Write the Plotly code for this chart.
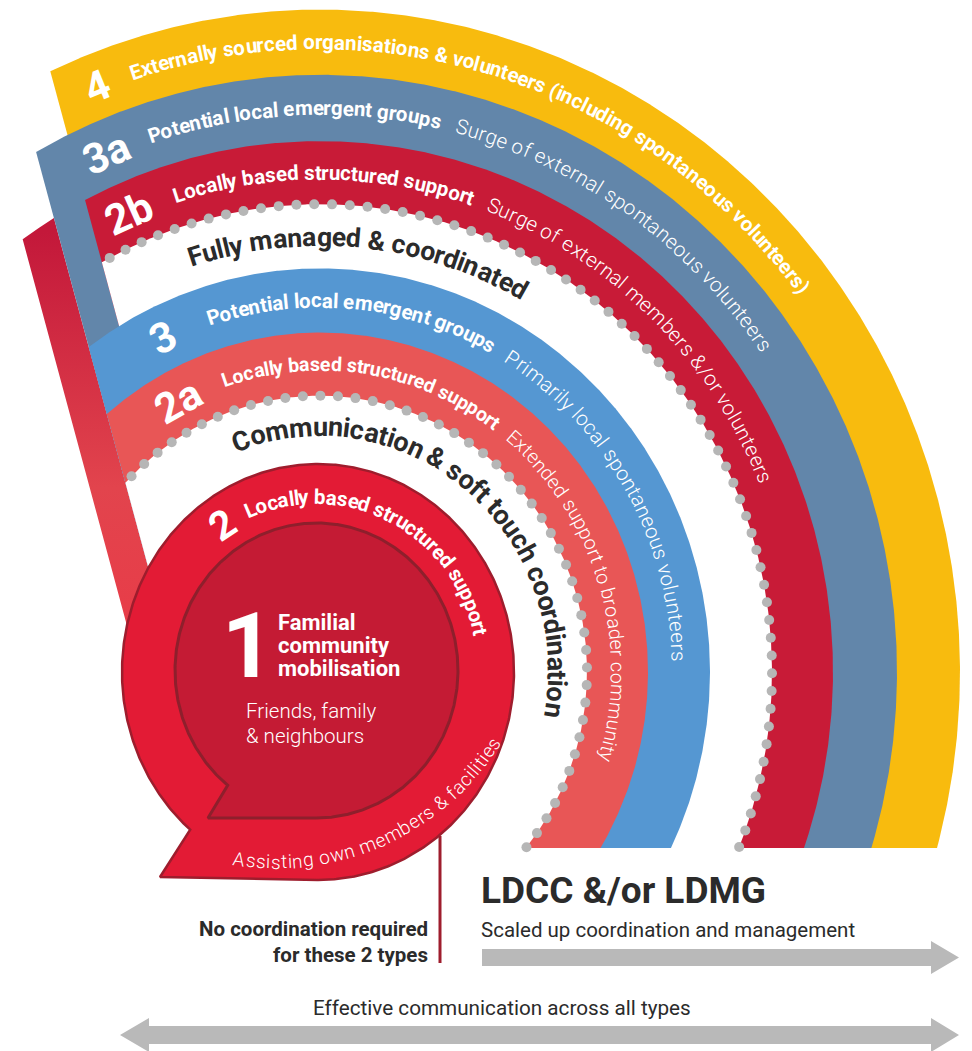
import numpy as np
import plotly.graph_objects as go

# ---------------- data (labels of the infographic) ----------------
band_ids = ["4", "3a", "2b", "3", "2a"]
band_titles = ["Externally sourced organisations & volunteers (including spontaneous volunteers)",
               "Potential local emergent groups",
               "Locally based structured support",
               "Potential local emergent groups",
               "Locally based structured support"]
band_notes = ["",
              "Surge of external spontaneous volunteers",
              "Surge of external members &/or volunteers",
              "Primarily local spontaneous volunteers",
              "Extended support to broader community"]
zone_labels = ["Fully managed & coordinated", "Communication & soft touch coordination"]
type2_id = "2"
type2_title = "Locally based structured support"
type2_note = "Assisting own members & facilities"
type1_id = "1"
type1_title = ["Familial", "community", "mobilisation"]
type1_note = ["Friends, family", "& neighbours"]
no_coord_lines = ["No coordination required", "for these 2 types"]
ldcc_title = "LDCC &/or LDMG"
ldcc_note = "Scaled up coordination and management"
comm_note = "Effective communication across all types"

# ---------------- styles / geometry ----------------
FONT = "Roboto"
DARK = "#2b2b2b"
BAND_COLORS = ["#f8bb0e", "#6286aa", "#c81b37", "#5597d2", "#e85656"]
DOT = "#b6b6b6"
ARROW = "#b9b9b9"
CX, CY, K = 320.0, 672.0, 1.035
EDGES = [640, 577, 513, 452, 390, 328, 267]
Y_CUT = 848.0
SLOPE = 0.27


def L1(y):
    return 35 + SLOPE * (y - 148)


def L2(y):
    return L1(y) + 36


def L0(y):
    return L1(y) - 37


W = {' ': .248, '!': .258, '&': .621, '(': .341, ')': .348, ',': .196, '-': .270, '.': .263, '/': .411,
     'A': .652, 'B': .623, 'C': .652, 'D': .656, 'E': .568, 'F': .553, 'G': .681, 'H': .713, 'I': .272,
     'J': .552, 'K': .626, 'L': .538, 'M': .873, 'N': .713, 'O': .688, 'P': .631, 'Q': .688, 'R': .616,
     'S': .593, 'T': .597, 'U': .648, 'V': .636, 'W': .887, 'X': .627, 'Y': .601, 'Z': .599,
     'a': .544, 'b': .561, 'c': .523, 'd': .563, 'e': .530, 'f': .347, 'g': .561, 'h': .551, 'i': .243,
     'j': .239, 'k': .507, 'l': .243, 'm': .876, 'n': .552, 'o': .570, 'p': .561, 'q': .568, 'r': .338,
     's': .516, 't': .327, 'u': .551, 'v': .484, 'w': .751, 'x': .496, 'y': .473, 'z': .496}


def adv(ch, bold):
    return W.get(ch, 0.562) * (1.025 if bold else 1.035)


def esc(ch):
    return {'&': '&amp;', '<': '&lt;', '>': '&gt;'}.get(ch, ch)


def esc_text(t):
    return ''.join(esc(c) for c in t)


def left_theta(a, b, line):
    lo, hi = np.pi / 2, np.pi
    for _ in range(60):
        mid = (lo + hi) / 2
        x = CX + a * np.cos(mid)
        y = CY - b * np.sin(mid)
        if x - line(y) > 0:
            lo = mid
        else:
            hi = mid
    return (lo + hi) / 2


def arc_xy(a, line, n=700):
    b = a * K
    t0 = left_theta(a, b, line)
    t1 = -np.arcsin((Y_CUT - CY) / b)
    th = np.linspace(t0, t1, n)
    return CX + a * np.cos(th), CY - b * np.sin(th)


def sector_xy(a, line):
    x, y = arc_xy(a, line)
    x = list(x) + [line(Y_CUT)]
    y = list(y) + [Y_CUT]
    x.append(x[0]); y.append(y[0])
    return x, y


def ribbon_xy(a, y_bot=800.0):
    b = a * K
    t0 = left_theta(a, b, L0)
    t1 = left_theta(a, b, L1)
    th = np.linspace(t0, t1, 80)
    x = list(CX + a * np.cos(th)) + [L1(y_bot), L0(y_bot)]
    y = list(CY - b * np.sin(th)) + [y_bot, y_bot]
    x.append(x[0]); y.append(y[0])
    return x, y


def dots_xy(a, line, spacing=17.7, inset=9.0):
    x, y = arc_xy(a, line, 5000)
    s = np.concatenate([[0], np.cumsum(np.hypot(np.diff(x), np.diff(y)))])
    n = int(round((s[-1] - inset) / spacing))
    sp = np.linspace(inset, s[-1] - 1, n + 1)
    return np.interp(sp, s, x), np.interp(sp, s, y)


def bubble_xy(cx, cy, a, b, junction, tip):
    tj = np.arctan2(-(junction[1] - cy) / b, (junction[0] - cx) / a)
    if tj < -np.pi / 2:
        tj += 2 * np.pi
    th = np.linspace(-np.pi / 2, tj, 600)
    x = list(cx + a * np.cos(th)) + [tip[0]]
    y = list(cy - b * np.sin(th)) + [tip[1]]
    x.append(x[0]); y.append(y[0])
    return x, y


anns = []


def arc_text(segments, cx, cy, a, b, x_left, size, direction, color, lower=False):
    c0 = np.clip((x_left - cx) / a, -1, 1)
    th0 = -np.arccos(c0) if lower else np.arccos(c0)
    th = th0 + direction * np.radians(np.linspace(0, 260, 9000))
    x = cx + a * np.cos(th)
    y = cy - b * np.sin(th)
    s = np.concatenate([[0], np.cumsum(np.hypot(np.diff(x), np.diff(y)))])
    pos = 0.0
    for text, bold, gap in segments:
        for ch in text:
            w = adv(ch, bold) * size
            c = pos + w / 2
            if ch != ' ':
                t = np.interp(c, s, th)
                px, py = cx + a * np.cos(t), cy - b * np.sin(t)
                if direction < 0:
                    tx, ty = a * np.sin(t), b * np.cos(t)
                else:
                    tx, ty = -a * np.sin(t), -b * np.cos(t)
                ang = float(np.degrees(np.arctan2(ty, tx)))
                anns.append(dict(x=float(px), y=float(py), text=esc(ch), textangle=ang,
                                 showarrow=False, xanchor='center', yanchor='middle', borderpad=0,
                                 font=dict(family=FONT, size=size, color=color,
                                           weight=700 if bold else 300)))
            pos += w
        pos += gap * size


def arc_label(text, cx, cy, a, b, x_c, size, color="white"):
    t = np.arccos(np.clip((x_c - cx) / a, -1, 1))
    px, py = cx + a * np.cos(t), cy - b * np.sin(t)
    ang = float(np.degrees(np.arctan2(b * np.cos(t), a * np.sin(t))))
    anns.append(dict(x=float(px), y=float(py), text=text, textangle=ang, showarrow=False,
                     xanchor='center', yanchor='middle',
                     font=dict(family=FONT, size=size, color=color, weight=700)))


fig = go.Figure()


def poly(x, y, color, line_color=None, line_width=0, **kw):
    fig.add_trace(go.Scatter(x=x, y=y, mode='lines', fill='toself', fillcolor=color,
                             line=dict(width=line_width, color=line_color or color),
                             hoverinfo='skip', showlegend=False, **kw))


# ribbon (tail of type 2 going up behind the rings)
rx, ry = ribbon_xy(EDGES[2])
fig.add_trace(go.Scatter(x=rx, y=ry, mode='lines', fill='toself', line=dict(width=0),
                         fillgradient=dict(type='vertical', start=232, stop=800,
                                           colorscale=[[0, '#c3183a'], [0.45, '#e2444d'],
                                                       [0.7, '#e83c48'], [1, '#e31c36']]),
                         hoverinfo='skip', showlegend=False))

# ring sectors, outer to inner
sector_specs = [(EDGES[0], L2, BAND_COLORS[0]), (EDGES[1], L1, BAND_COLORS[1]),
                (EDGES[2], L2, BAND_COLORS[2]), (EDGES[3], L2, "white"),
                (EDGES[4], L1, BAND_COLORS[3]), (EDGES[5], L1, BAND_COLORS[4]),
                (EDGES[6], L1, "white")]
for a, line, col in sector_specs:
    sx, sy = sector_xy(a, line)
    poly(sx, sy, col)

# dotted borders
for a, line in [(EDGES[3], L2), (EDGES[6], L1)]:
    dx, dy = dots_xy(a, line)
    fig.add_trace(go.Scatter(x=dx, y=dy, mode='markers',
                             marker=dict(size=10, color=DOT, line=dict(width=0)),
                             hoverinfo='skip', showlegend=False))

# connector line below the bubble
fig.add_trace(go.Scatter(x=[440, 440], y=[836, 963], mode='lines',
                         line=dict(color="#9e1d2d", width=3), hoverinfo='skip', showlegend=False))

# type 2 bubble and type 1 inner bubble
bx, by = bubble_xy(318, 672, 196, 208, (190, 830), (160, 877))
poly(bx, by, "#e31b35", "#9e1d2d", 2.5)
ix, iy = bubble_xy(316.5, 670.5, 141.5, 147.5, (228, 785), (208, 818))
poly(ix, iy, "#c41b34", "#8e1f2c", 3)

# arrows
poly([482, 931, 931, 959, 931, 931, 482, 482], [949, 949, 941, 957.5, 974, 966, 966, 949], ARROW)
poly([149, 931, 931, 959, 931, 931, 149, 149, 120, 149, 149],
     [1026, 1026, 1018, 1035, 1052, 1044, 1044, 1052, 1035, 1018, 1026], ARROW)

# ---------------- curved texts ----------------
band_text_size = [20.5, 20.5, 20.5, 20.5, 19.5]
band_text_r = [608.5, 545, 482.5, 359, 297.5]
band_text_x = [130, 148, 173, 207, 222]
band_num_x = [97, 106, 129, 163, 178]
for i in range(5):
    a = band_text_r[i]
    segs = [(band_titles[i], True, 0.72)]
    if band_notes[i]:
        segs.append((band_notes[i], False, 0))
    arc_text(segs, CX, CY, a, a * K, band_text_x[i], band_text_size[i], -1, "white")
    arc_label(band_ids[i], CX, CY, a, a * K, band_num_x[i], 42)

arc_text([(zone_labels[0], True, 0)], CX, CY, 421, 421 * K, 188, 26.5, -1, DARK)
arc_text([(zone_labels[1], True, 0)], CX, CY, 237, 237 * K, 233, 27, -1, DARK)

arc_text([(type2_title, True, 0)], 315, 665, 168, 168, 245, 20.5, -1, "white")
arc_label(type2_id, 315, 665, 168, 168, 222, 40)
arc_text([(type2_note, False, 0)], 276, 604, 258, 258, 233, 19, 1, "white", lower=True)

# ---------------- straight texts ----------------
anns.append(dict(x=248, y=646, text=type1_id, showarrow=False, xanchor='center', yanchor='middle',
                 borderpad=0, font=dict(family=FONT, size=90, color="white", weight=700)))
for k, t in enumerate(type1_title):
    anns.append(dict(x=277, y=622 + 23 * k, text=t, showarrow=False, xanchor='left', yanchor='middle',
                     borderpad=0, height=23,
                     font=dict(family=FONT, size=22, color="white", weight=700)))
for k, t in enumerate(type1_note):
    anns.append(dict(x=245, y=711 + 25 * k, text=esc_text(t),
                     showarrow=False, xanchor='left', yanchor='middle', borderpad=0,
                     font=dict(family=FONT, size=20.5, color="white", weight=300)))
for k, t in enumerate(no_coord_lines):
    anns.append(dict(x=429, y=928.5 + 26 * k, text=t, showarrow=False, xanchor='right', yanchor='middle',
                     borderpad=0, font=dict(family=FONT, size=20.5, color=DARK, weight=700)))
anns.append(dict(x=480, y=890, text=esc_text(ldcc_title), showarrow=False,
                 xanchor='left', yanchor='middle', borderpad=0,
                 font=dict(family=FONT, size=37, color=DARK, weight=700)))
anns.append(dict(x=480, y=930, text=ldcc_note, showarrow=False, xanchor='left', yanchor='middle',
                 borderpad=0, font=dict(family=FONT, size=20.5, color=DARK, weight=400)))
anns.append(dict(x=502, y=1008, text=comm_note, showarrow=False, xanchor='center', yanchor='middle',
                 borderpad=0, font=dict(family=FONT, size=20.7, color=DARK, weight=400)))

fig.update_layout(
    width=972, height=1051, margin=dict(l=0, r=0, t=0, b=0),
    paper_bgcolor='white', plot_bgcolor='white', showlegend=False,
    xaxis=dict(range=[0, 972], visible=False, fixedrange=True),
    yaxis=dict(range=[1051, 0], visible=False, fixedrange=True),
    annotations=anns,
)

fig.write_html("out.html", config={'displayModeBar': False},
               post_script="document.body.style.margin='0';document.body.style.overflow='hidden';")
